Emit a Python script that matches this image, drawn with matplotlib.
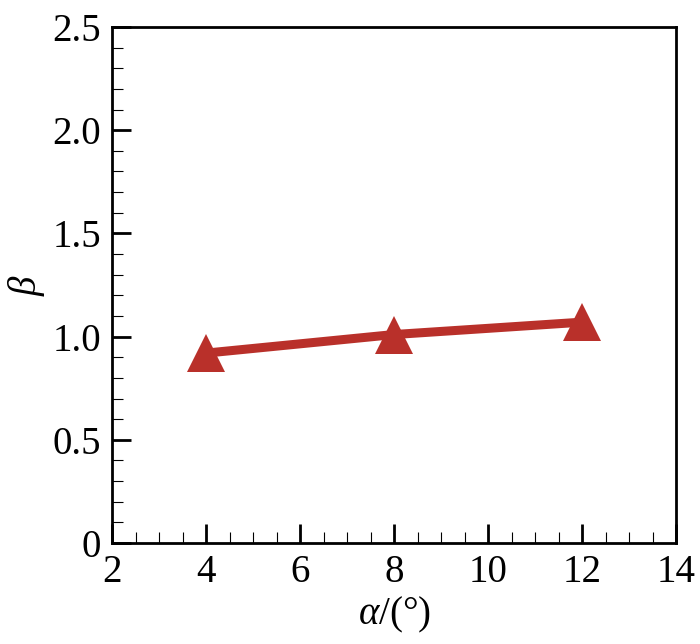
import matplotlib
matplotlib.use("Agg")
import matplotlib.pyplot as plt
import matplotlib.ticker as ticker

# data
alpha = [4, 8, 12]
beta = [0.92, 1.01, 1.07]

RED = "#b9302a"

plt.rcParams["font.family"] = "Liberation Serif"
plt.rcParams["mathtext.fontset"] = "custom"
plt.rcParams["mathtext.rm"] = "Liberation Serif"
plt.rcParams["mathtext.it"] = "Liberation Serif:italic"

fig = plt.figure(figsize=(7, 6.44), dpi=100)
ax = fig.add_axes([112 / 700, 1 - 543 / 644, (676 - 112) / 700, (543 - 27) / 644])

ax.plot(alpha, beta, color=RED, linewidth=6.5, marker="^", markersize=27,
        markerfacecolor=RED, markeredgewidth=0, solid_capstyle="butt")

ax.set_xlim(2, 14)
ax.set_ylim(0, 2.5)
ax.xaxis.set_major_locator(ticker.MultipleLocator(2))
ax.xaxis.set_minor_locator(ticker.MultipleLocator(0.5))
ax.yaxis.set_major_locator(ticker.MultipleLocator(0.5))
ax.yaxis.set_minor_locator(ticker.MultipleLocator(0.1))
ax.yaxis.set_major_formatter(ticker.FuncFormatter(lambda v, p: "0" if v == 0 else f"{v:.1f}"))

ax.tick_params(which="both", direction="in", top=False, right=False,
               labelsize=28, colors="black", pad=8)
ax.tick_params(which="major", length=14, width=2)
ax.tick_params(which="minor", length=8, width=0.8)
for s in ax.spines.values():
    s.set_linewidth(2)

ax.set_xlabel(r"$\mathit{\alpha}$/(°)", fontsize=28, labelpad=3)
ax.set_ylabel(r"$\mathit{\beta}$", fontsize=28, labelpad=4)

fig.savefig("out.png", dpi=100, facecolor="white")
